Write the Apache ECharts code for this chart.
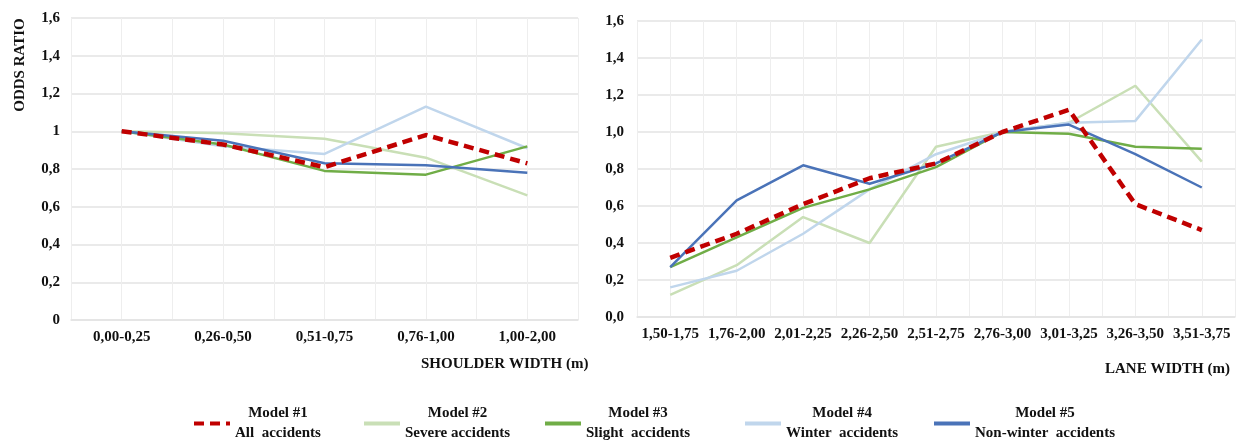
<!DOCTYPE html>
<html>
<head>
<meta charset="utf-8">
<script src="https://cdn.jsdelivr.net/npm/echarts@6/dist/echarts.min.js"></script>
<style>
  html, body { margin: 0; padding: 0; background: #fff; }
  #main { width: 1236px; height: 442px; }
</style>
</head>
<body>
<div id="main"></div>
<script>
// categories
var shoulderCats = ['0,00-0,25', '0,26-0,50', '0,51-0,75', '0,76-1,00', '1,00-2,00'];
var laneCats = ['1,50-1,75', '1,76-2,00', '2,01-2,25', '2,26-2,50', '2,51-2,75', '2,76-3,00', '3,01-3,25', '3,26-3,50', '3,51-3,75'];

var modelNames = ['Model #1', 'Model #2', 'Model #3', 'Model #4', 'Model #5'];
var modelDesc = ['All  accidents', 'Severe accidents', 'Slight  accidents', 'Winter  accidents', 'Non-winter  accidents'];

// odds ratios, shoulder width
var shoulderM1 = [1.00, 0.93, 0.81, 0.98, 0.83];
var shoulderM2 = [1.00, 0.99, 0.96, 0.86, 0.66];
var shoulderM3 = [1.00, 0.93, 0.79, 0.77, 0.92];
var shoulderM4 = [1.00, 0.92, 0.88, 1.13, 0.91];
var shoulderM5 = [1.00, 0.95, 0.83, 0.82, 0.78];

// odds ratios, lane width
var laneM1 = [0.32, 0.45, 0.61, 0.75, 0.83, 1.00, 1.12, 0.61, 0.47];
var laneM2 = [0.12, 0.28, 0.54, 0.40, 0.92, 1.00, 1.05, 1.25, 0.84];
var laneM3 = [0.27, 0.43, 0.59, 0.69, 0.81, 1.00, 0.99, 0.92, 0.91];
var laneM4 = [0.16, 0.25, 0.45, 0.69, 0.88, 1.00, 1.05, 1.06, 1.50];
var laneM5 = [0.27, 0.63, 0.82, 0.72, 0.83, 1.00, 1.04, 0.88, 0.70];

var shoulderData = [shoulderM1, shoulderM2, shoulderM3, shoulderM4, shoulderM5];
var laneData = [laneM1, laneM2, laneM3, laneM4, laneM5];

// styles
var colors = ['#C00000', '#C9DFB6', '#70AD47', '#C0D6EC', '#4A73B8'];
var widths = [4.5, 2.5, 2.5, 2.5, 2.5];
var zs = [6, 2, 4, 3, 5];
var legendLeft = [192, 362, 543, 743, 932];

var FONT = 'Liberation Serif';
var txt = { fontFamily: FONT, fontWeight: 'bold', fontSize: 15, color: '#111' };
var gridColor = '#e3e3e3';

var chart = echarts.init(document.getElementById('main'));

function blanks(n) {
  var a = [];
  for (var i = 0; i < n; i++) a.push('');
  return a;
}

function yAxisFor(gi, fmt) {
  return {
    type: 'value', gridIndex: gi, min: 0, max: 1.6, interval: 0.2,
    axisLine: { show: false }, axisTick: { show: false },
    splitLine: { lineStyle: { color: gridColor, width: 1.5 } },
    axisLabel: Object.assign({ margin: gi === 0 ? 11 : 13, formatter: fmt }, txt)
  };
}

function catAxis(gi, cats) {
  return {
    type: 'category', gridIndex: gi, data: cats,
    axisLine: { lineStyle: { color: gridColor, width: 1.5 } },
    axisTick: { show: false }, splitLine: { show: false },
    axisLabel: Object.assign({ margin: 10, interval: 0 }, txt)
  };
}

// helper axis: half-category steps, only for the faint vertical grid
function halfAxis(gi, n) {
  return {
    type: 'category', gridIndex: gi, data: blanks(n * 2),
    axisLine: { show: false }, axisTick: { show: false }, axisLabel: { show: false },
    splitLine: { show: true, interval: 0, lineStyle: { color: '#eeeeee', width: 1 } }
  };
}

var series = [];
[shoulderData, laneData].forEach(function (set, gi) {
  set.forEach(function (vals, i) {
    series.push({
      name: modelNames[i],
      type: 'line',
      xAxisIndex: gi * 2,
      yAxisIndex: gi,
      data: vals,
      symbol: 'none',
      z: zs[i],
      lineStyle: {
        color: colors[i],
        width: widths[i],
        type: i === 0 ? [10, 6] : 'solid'
      },
      itemStyle: { color: colors[i] }
    });
  });
});

var legends = modelNames.map(function (n, i) {
  return {
    data: [n],
    left: legendLeft[i],
    top: 406,
    padding: 0,
    itemWidth: 36,
    itemHeight: 12,
    selectedMode: false,
    itemStyle: { opacity: 0 },
    lineStyle: { width: 4 },
    formatter: function (name) {
      return '{a|' + name + '}\n{a|' + modelDesc[i] + '}';
    },
    textStyle: {
      rich: { a: Object.assign({ align: 'center', lineHeight: 20 }, txt) }
    }
  };
});

var option = {
  animation: false,
  grid: [
    { left: 71, top: 18, width: 507, height: 302 },
    { left: 637, top: 21, width: 598, height: 296 }
  ],
  xAxis: [
    catAxis(0, shoulderCats),
    halfAxis(0, shoulderCats.length),
    catAxis(1, laneCats),
    halfAxis(1, laneCats.length)
  ],
  yAxis: [
    yAxisFor(0, function (v) { return String(Math.round(v * 10) / 10).replace('.', ','); }),
    yAxisFor(1, function (v) { return v.toFixed(1).replace('.', ','); })
  ],
  legend: legends,
  graphic: [
    {
      type: 'text', x: 20, y: 65, rotation: Math.PI / 2,
      style: { text: 'ODDS RATIO', align: 'center', verticalAlign: 'middle', fill: '#111',
        font: 'bold 15px "Liberation Serif"' }
    },
    {
      type: 'text', left: 421, top: 357,
      style: { text: 'SHOULDER WIDTH (m)', fill: '#111', font: 'bold 15px "Liberation Serif"' }
    },
    {
      type: 'text', right: 6, top: 362,
      style: { text: 'LANE WIDTH (m)', fill: '#111', font: 'bold 15px "Liberation Serif"' }
    }
  ],
  series: series
};

chart.setOption(option);
</script>
</body>
</html>
